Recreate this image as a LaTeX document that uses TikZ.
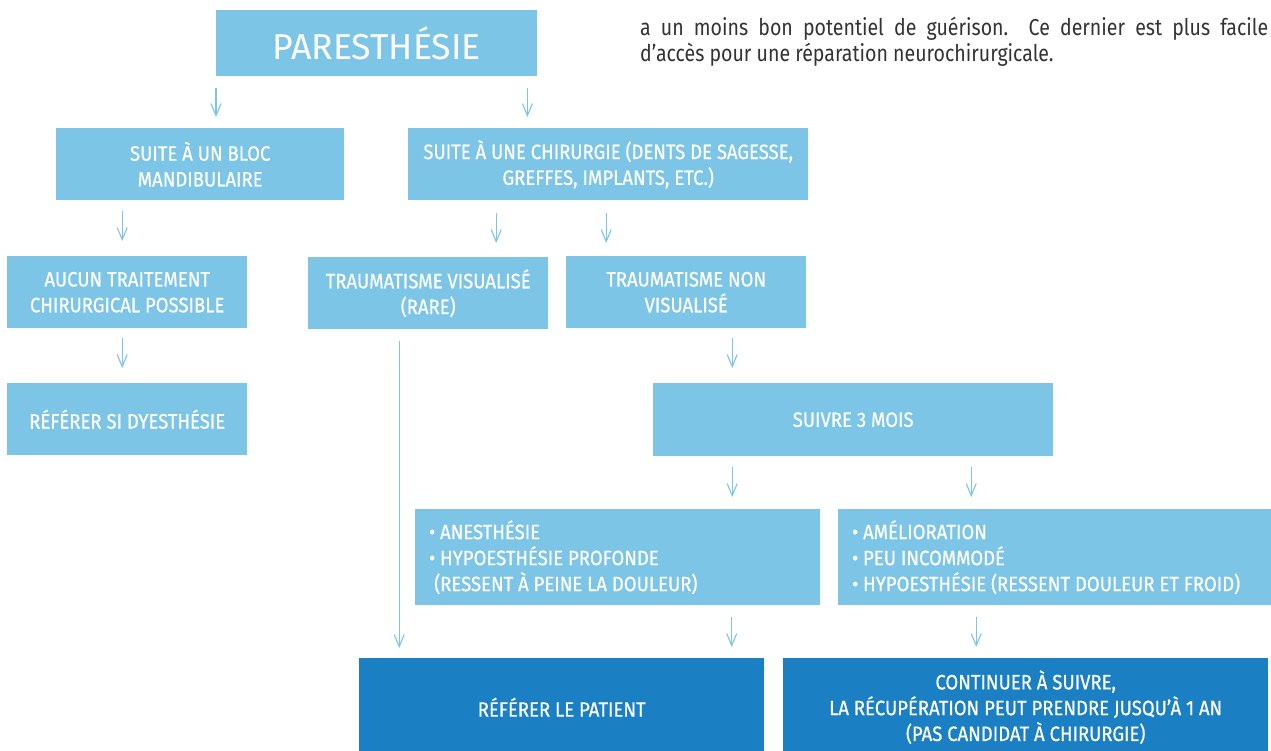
\documentclass[tikz,border=0pt]{standalone}
\usepackage{fontspec}
\setmainfont{Fira Sans}
\newfontfamily\boxfont{Fira Sans}[FakeStretch=0.89,FakeBold=0.6]
\newfontfamily\titlefont{Fira Sans}[FakeStretch=0.99]
\newfontfamily\parafont{Fira Sans}[FakeStretch=0.85]
\usetikzlibrary{arrows.meta}
\definecolor{lblue}{HTML}{7DC5E7}
\definecolor{dblue}{HTML}{1B80C3}
\definecolor{ptext}{HTML}{333333}
\tikzset{
  lbox/.style={fill=lblue, text=white, inner sep=0pt, anchor=north west, align=center,
    font=\boxfont\fontsize{20.8}{25.8}\selectfont},
  dbox/.style={lbox, fill=dblue},
  blist/.style={lbox, align=flush left, font=\boxfont\fontsize{20.8}{26}\selectfont},
  ptxt/.style={anchor=base west, inner sep=0pt, text=ptext, font=\parafont\fontsize{23}{26}\selectfont},
  arr/.style={draw=lblue, line width=1.1pt, -{Straight Barb[length=12pt,width=10pt,line width=1.1pt]}},
}
\begin{document}
\begin{tikzpicture}[x=1pt,y=-1pt]
\useasboundingbox (0,0) rectangle (1271,750);
\fill[white] (0,0) rectangle (1271,750);
% paragraph
\node[ptxt] (para1) at (640,35) {\makebox[628pt][s]{a un moins bon potentiel de guérison.\ \ Ce dernier est plus facile}};
\node[ptxt] (para2) at (640,61) {d’accès pour une réparation neurochirurgicale.};
% boxes
\node[lbox, minimum width=321pt, minimum height=66pt, font=\titlefont\fontsize{36}{40}\selectfont] (par) at (216,10) {PARESTHÉSIE};
\node[lbox, minimum width=288pt, minimum height=72pt] (bloc) at (56,128) {SUITE À UN BLOC\\MANDIBULAIRE};
\node[lbox, minimum width=400pt, minimum height=72pt] (chir) at (408,128) {SUITE À UNE CHIRURGIE (DENTS DE SAGESSE,\\GREFFES, IMPLANTS, ETC.)};
\node[lbox, minimum width=240pt, minimum height=72pt] (aucun) at (7,256) {AUCUN TRAITEMENT\\CHIRURGICAL POSSIBLE};
\node[lbox, minimum width=240pt, minimum height=72pt] (tvis) at (308,257) {TRAUMATISME VISUALISÉ\\(RARE)};
\node[lbox, minimum width=240pt, minimum height=72pt] (tnon) at (566,256) {TRAUMATISME NON\\VISUALISÉ};
\node[lbox, minimum width=240pt, minimum height=72pt] (refdys) at (7,383) {RÉFÉRER SI DYESTHÉSIE};
\node[lbox, minimum width=400pt, minimum height=73pt] (suivre) at (653,383) {SUIVRE 3 MOIS};
\node[blist, minimum width=405pt, minimum height=96pt, text width=377pt, inner xsep=14pt] (anest) at (415,509)
  {• ANESTHÉSIE\\• HYPOESTHÉSIE PROFONDE\\\hspace*{5pt}(RESSENT À PEINE LA DOULEUR)};
\node[blist, minimum width=430pt, minimum height=96pt, text width=416pt, inner xsep=14pt] (amel) at (838,509)
  {• AMÉLIORATION\\• PEU INCOMMODÉ\\• HYPOESTHÉSIE (RESSENT DOULEUR ET FROID)};
\node[dbox, minimum width=405pt, minimum height=98pt] (refpat) at (359,658) {RÉFÉRER LE PATIENT};
\node[dbox, minimum width=485pt, minimum height=98pt] (cont) at (783,658) {CONTINUER À SUIVRE,\\LA RÉCUPÉRATION PEUT PRENDRE JUSQU’À 1 AN\\(PAS CANDIDAT À CHIRURGIE)};
% arrows
\draw[arr, shorten <=12pt, shorten >=11pt] (par.south west) -- (par.south west |- bloc.north);
\draw[arr, shorten <=12pt, shorten >=11pt] ([xshift=-10pt]par.south east) -- ([xshift=-10pt]par.south east |- chir.north);
\draw[arr, shorten <=11pt, shorten >=15pt] ([xshift=-78pt]bloc.south) -- ([xshift=-78pt]bloc.south |- aucun.north);
\draw[arr, shorten <=13pt, shorten >=14pt] ([xshift=-112pt]chir.south) -- ([xshift=-112pt]chir.south |- tvis.north);
\draw[arr, shorten <=13pt, shorten >=13pt] ([xshift=-2pt]chir.south) -- ([xshift=-2pt]chir.south |- tnon.north);
\draw[arr, shorten <=10pt, shorten >=15pt] ([xshift=-5pt]aucun.south) -- ([xshift=-5pt]aucun.south |- refdys.north);
\draw[arr, shorten <=12pt, shorten >=10pt] ([xshift=-29pt]tvis.south) -- ([xshift=-29pt]tvis.south |- refpat.north);
\draw[arr, shorten <=10pt, shorten >=15pt] ([xshift=46pt]tnon.south) -- ([xshift=46pt]tnon.south |- suivre.north);
\draw[arr, shorten <=11pt, shorten >=12pt] ([xshift=-121pt]suivre.south) -- ([xshift=-121pt]suivre.south |- anest.north);
\draw[arr, shorten <=11pt, shorten >=12pt] ([xshift=118pt]suivre.south) -- ([xshift=118pt]suivre.south |- amel.north);
\draw[arr, shorten <=12pt, shorten >=11pt] ([xshift=114pt]anest.south) -- ([xshift=114pt]anest.south |- refpat.north);
\draw[arr, shorten <=12pt, shorten >=11pt] ([xshift=-84pt]amel.south) -- ([xshift=-84pt]amel.south |- cont.north);
\end{tikzpicture}
\end{document}
